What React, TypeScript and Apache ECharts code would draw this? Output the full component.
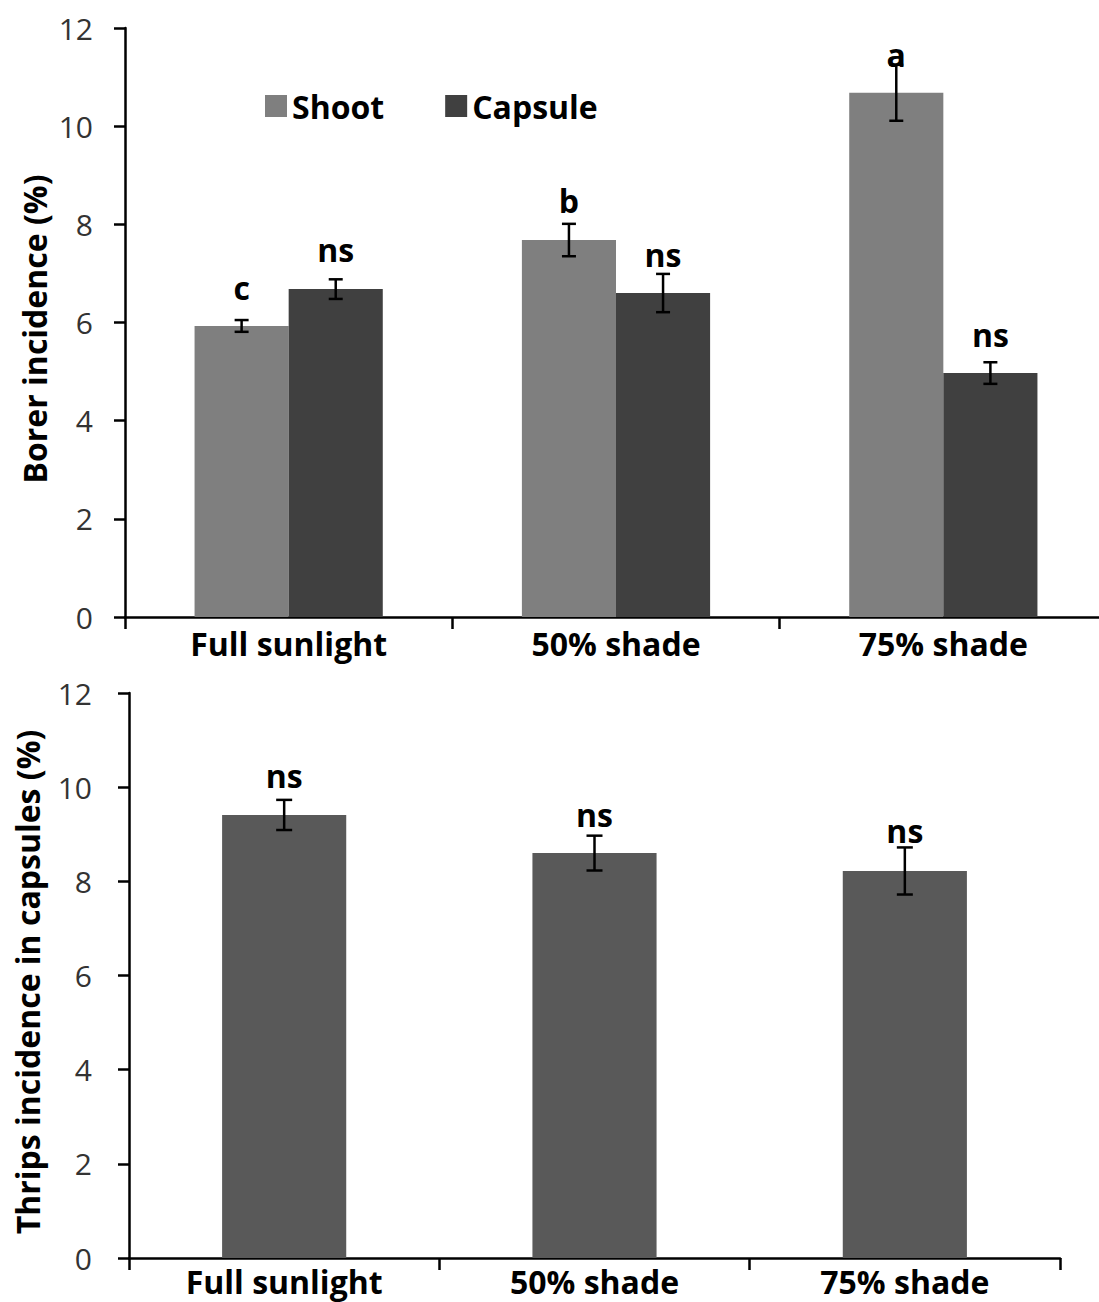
import React, { useEffect, useRef } from "react";
import * as echarts from "echarts";

const categories = ["Full sunlight", "50% shade", "75% shade"];

// Top chart: borer incidence (%)
const shootMean = [5.93, 7.68, 10.68];
const shootErr = [0.12, 0.33, 0.57];
const shootLetters = ["c", "b", "a"];
const shootLetterY = [6.72, 8.48, 11.45];

const capsuleMean = [6.68, 6.6, 4.97];
const capsuleErr = [0.2, 0.39, 0.22];
const capsuleLetters = ["ns", "ns", "ns"];
const capsuleLetterY = [7.48, 7.38, 5.75];

// Bottom chart: thrips incidence in capsules (%)
const thripsMean = [9.41, 8.6, 8.22];
const thripsErr = [0.32, 0.37, 0.5];
const thripsLetters = ["ns", "ns", "ns"];
const thripsLetterY = [10.24, 9.43, 9.07];

const yMin = 0;
const yMax = 12;
const yInterval = 2;

const FONT = '"Open Sans", "Liberation Sans", sans-serif';

function errorSeries(
  name: string,
  axisIndex: number,
  means: number[],
  errs: number[],
  letters: string[],
  letterY: number[],
  nBars: number,
  pos: number,
  gapRatio: number,
  cap: number
) {
  return {
    type: "custom",
    name,
    xAxisIndex: axisIndex,
    yAxisIndex: axisIndex,
    z: 10,
    silent: true,
    encode: { x: 0, y: 1 },
    data: means.map((m, i) => [i, m, errs[i], letterY[i]]),
    renderItem: (params: any, api: any) => {
      const i = params.dataIndex;
      const c = api.value(0);
      const mean = api.value(1);
      const err = api.value(2);
      const ly = api.value(3);
      const band = api.size([1, 0])[0];
      const barW = (band * (1 - gapRatio)) / nBars;
      const cx = api.coord([c, mean])[0] + (pos - (nBars - 1) / 2) * barW;
      const yTop = api.coord([c, mean + err])[1];
      const yBot = api.coord([c, mean - err])[1];
      const yl = api.coord([c, ly])[1];
      const ls = { stroke: "#000", lineWidth: 2.5 };
      return {
        type: "group",
        children: [
          { type: "line", shape: { x1: cx, y1: yTop, x2: cx, y2: yBot }, style: ls },
          { type: "line", shape: { x1: cx - cap, y1: yTop, x2: cx + cap, y2: yTop }, style: ls },
          { type: "line", shape: { x1: cx - cap, y1: yBot, x2: cx + cap, y2: yBot }, style: ls },
          {
            type: "text",
            x: cx,
            y: yl,
            style: {
              text: letters[i],
              fill: "#000",
              fontSize: 32,
              fontWeight: "bold",
              fontFamily: FONT,
              textAlign: "center",
              textVerticalAlign: "middle",
              align: "center",
              verticalAlign: "middle",
            },
          },
        ],
      };
    },
  };
}

function xAxisOpt(gridIndex: number, margin: number) {
  return {
    type: "category",
    gridIndex,
    data: categories,
    axisLine: { show: true, lineStyle: { color: "#000", width: 2.5 } },
    axisTick: { show: true, length: 12, lineStyle: { color: "#000", width: 2.5 } },
    axisLabel: {
      interval: 0,
      margin,
      color: "#000",
      fontSize: 32,
      fontWeight: "bold",
      fontFamily: FONT,
    },
    splitLine: { show: false },
  };
}

function yAxisOpt(gridIndex: number, margin: number) {
  return {
    type: "value",
    gridIndex,
    min: yMin,
    max: yMax,
    interval: yInterval,
    axisLine: { show: true, lineStyle: { color: "#000", width: 2.5 } },
    axisTick: { show: true, length: 11, lineStyle: { color: "#000", width: 2.5 } },
    axisLabel: { margin, color: "#333", fontSize: 30, fontFamily: FONT },
    splitLine: { show: false },
  };
}

export default function App() {
  const ref = useRef<HTMLDivElement>(null);
  useEffect(() => {
    if (!ref.current) return;
    const chart = echarts.init(ref.current, undefined, { renderer: "svg" });
    const topGap = 0.425;
    const botGap = 0.6;
    chart.setOption({
      animation: false,
      backgroundColor: "#fff",
      grid: [
        { left: 125, top: 28, width: 982, height: 589, containLabel: false },
        { left: 129, top: 693, width: 931, height: 565, containLabel: false },
      ],
      legend: {
        data: ["Shoot", "Capsule"],
        left: 265,
        top: 90,
        padding: 0,
        itemWidth: 22,
        itemHeight: 22,
        itemGap: 61,
        icon: "rect",
        textStyle: { color: "#000", fontSize: 32, fontWeight: "bold", fontFamily: FONT },
      },
      xAxis: [xAxisOpt(0, 10), xAxisOpt(1, 7)],
      yAxis: [yAxisOpt(0, 32), yAxisOpt(1, 37)],
      graphic: [
        {
          type: "text",
          x: 34,
          y: 329,
          rotation: Math.PI / 2,
          style: {
            text: "Borer incidence (%)",
            fill: "#000",
            fontSize: 32,
            fontWeight: "bold",
            fontFamily: FONT,
            textAlign: "center",
            textVerticalAlign: "middle",
            align: "center",
            verticalAlign: "middle",
          },
        },
        {
          type: "text",
          x: 27,
          y: 982,
          rotation: Math.PI / 2,
          style: {
            text: "Thrips incidence in capsules (%)",
            fill: "#000",
            fontSize: 32,
            fontWeight: "bold",
            fontFamily: FONT,
            textAlign: "center",
            textVerticalAlign: "middle",
            align: "center",
            verticalAlign: "middle",
          },
        },
      ],
      series: [
        {
          type: "bar",
          name: "Shoot",
          xAxisIndex: 0,
          yAxisIndex: 0,
          data: shootMean,
          barGap: "0%",
          barCategoryGap: topGap * 100 + "%",
          itemStyle: { color: "#7f7f7f" },
        },
        {
          type: "bar",
          name: "Capsule",
          xAxisIndex: 0,
          yAxisIndex: 0,
          data: capsuleMean,
          barGap: "0%",
          barCategoryGap: topGap * 100 + "%",
          itemStyle: { color: "#404040" },
        },
        {
          type: "bar",
          name: "Thrips",
          xAxisIndex: 1,
          yAxisIndex: 1,
          data: thripsMean,
          barCategoryGap: botGap * 100 + "%",
          itemStyle: { color: "#595959" },
        },
        errorSeries("Shoot err", 0, shootMean, shootErr, shootLetters, shootLetterY, 2, 0, topGap, 7),
        errorSeries("Capsule err", 0, capsuleMean, capsuleErr, capsuleLetters, capsuleLetterY, 2, 1, topGap, 7),
        errorSeries("Thrips err", 1, thripsMean, thripsErr, thripsLetters, thripsLetterY, 1, 0, botGap, 8),
      ],
    });
    return () => chart.dispose();
  }, []);
  return (
    <div
      style={{
        position: "absolute",
        left: 0,
        top: 0,
        width: 1099,
        height: 1302,
        overflow: "hidden",
        background: "#fff",
      }}
    >
      <div ref={ref} style={{ width: 1112, height: 1302 }} />
    </div>
  );
}
